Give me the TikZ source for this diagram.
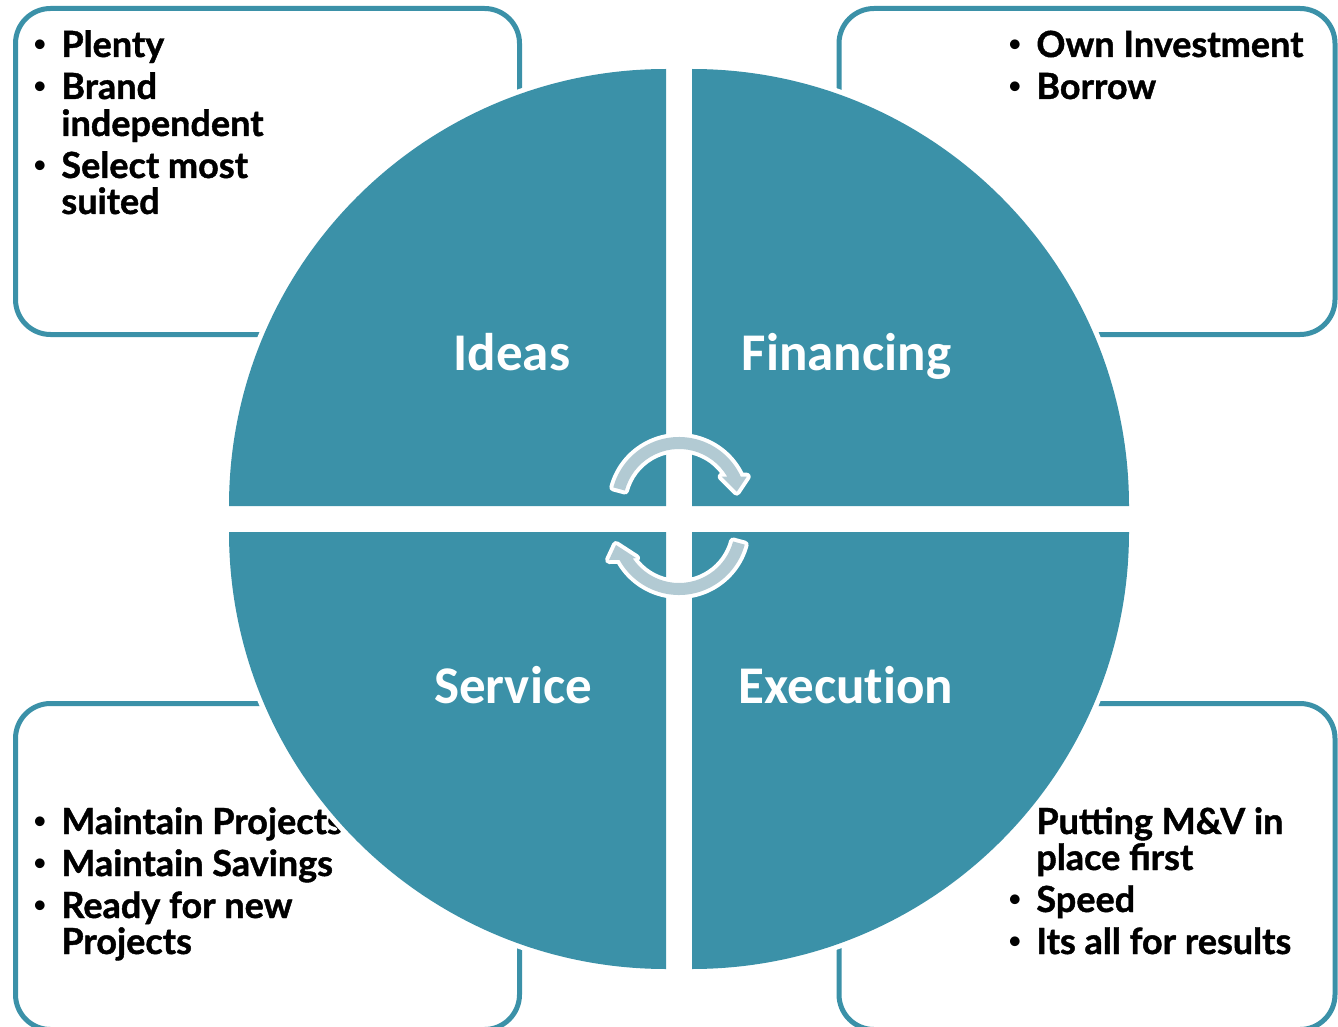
\documentclass[tikz,border=0pt]{standalone}
\usepackage{fontspec}
\setmainfont{Lato}[BoldFeatures={FakeBold=1.2}]
\newfontfamily\labelfont{Carlito}[Ligatures=NoCommon]
\usetikzlibrary{calc}
\definecolor{tealq}{RGB}{59,145,168}
\definecolor{arrowgrey}{RGB}{178,202,211}
\newcommand{\bul}{\llap{\raisebox{0.12em}{\mdseries\fontsize{13pt}{13pt}\selectfont\textbullet}\hspace{7pt}}}
\begin{document}
\begin{tikzpicture}[x=0.5pt,y=-0.5pt,
  boxline/.style={draw=tealq, line width=2.5pt, rounded corners=17.5pt},
  btxt/.style={anchor=base west, inner sep=0pt, font=\fontsize{18pt}{20pt}\selectfont\bfseries, text=black},
  qlabel/.style={anchor=base, inner sep=0pt, text=white, font=\labelfont\bfseries\fontsize{26.5pt}{30pt}\selectfont},
  quad/.style={fill=tealq},
  halo/.style={fill=white},
  arrowshape/.style={fill=arrowgrey, preaction={draw=white, line width=4pt, line join=round}}]
\useasboundingbox (0,0) rectangle (1338,1027);
\clip (0,0) rectangle (1338,1027);
\fill[white] (0,0) rectangle (1338,1027);

% boxes
\draw[boxline] (15.5,8.5) rectangle (519.5,334.5);
\draw[boxline] (839,8.5) rectangle (1335,334.5);
\draw[boxline] (15.5,703.5) rectangle (519.5,1029.5);
\draw[boxline] (839,703.5) rectangle (1335,1029.5);

% box texts
\node[btxt] (tl1) at (61,57) {\bul Plenty};
\node[btxt] (tl2) at (61,99) {\bul Brand};
\node[btxt] (tl3) at (61,136) {independent};
\node[btxt] (tl4) at (61,178) {\bul Select most};
\node[btxt] (tl5) at (61,214) {suited};

\node[btxt] (tr1) at (1036,57) {\bul Own Investment};
\node[btxt] (tr2) at (1036,99) {\bul Borrow};

\node[btxt] (bl1) at (61,834) {\bul Maintain Projects};
\node[btxt] (bl2) at (61,876) {\bul Maintain Savings};
\node[btxt] (bl3) at (61,918) {\bul Ready for new};
\node[btxt] (bl4) at (61,954) {Projects};

\node[btxt] (br1) at (1036,834) {Putting M\&V in};
\node[btxt] (br2) at (1036,870) {place first};
\node[btxt] (br3) at (1036,912) {\bul Speed};
\node[btxt] (br4) at (1036,954) {\bul Its all for results};

% white halos of quadrants
\fill[halo] (666,506) -- ++(-442,0) arc[start angle=180,end angle=270,radius=442] -- cycle;
\fill[halo] (692,506) -- ++(442,0) arc[start angle=0,end angle=-90,radius=442] -- cycle;
\fill[halo] (692,532) -- ++(442,0) arc[start angle=0,end angle=90,radius=442] -- cycle;
\fill[halo] (666,532) -- ++(-442,0) arc[start angle=180,end angle=90,radius=442] -- cycle;

% quadrants
\fill[quad] (666,506) -- ++(-437,0) arc[start angle=180,end angle=270,radius=437] -- cycle;
\fill[quad] (692,506) -- ++(437,0) arc[start angle=0,end angle=-90,radius=437] -- cycle;
\fill[quad] (692,532) -- ++(437,0) arc[start angle=0,end angle=90,radius=437] -- cycle;
\fill[quad] (666,532) -- ++(-437,0) arc[start angle=180,end angle=90,radius=437] -- cycle;

% labels
\node[qlabel] (ideas) at (512,370) {Ideas};
\node[qlabel] (fin) at (846.5,370) {Financing};
\node[qlabel] (serv) at (513,703) {Service};
\node[qlabel] (exec) at (846,703) {Execut\kern0pt ion};

% circular arrows
\coordinate (c1) at (679,505);
\coordinate (c2) at (679,527);
\path[arrowshape] ($(c1)+(-165:68)$) arc[start angle=-165,end angle=-24.6,radius=68]
  -- (746.7,476.7) -- (736.7,491.7) -- (721.7,476.7)
  -- ($(c1)+(-30.4:56)$) arc[start angle=-30.4,end angle=-165,radius=56] -- cycle;
\path[arrowshape] ($(c2)+(15:68)$) arc[start angle=15,end angle=151,radius=68]
  -- (609,560) -- (616,545) -- (636,558)
  -- ($(c2)+(145.8:56)$) arc[start angle=145.8,end angle=15,radius=56] -- cycle;
\end{tikzpicture}
\end{document}
